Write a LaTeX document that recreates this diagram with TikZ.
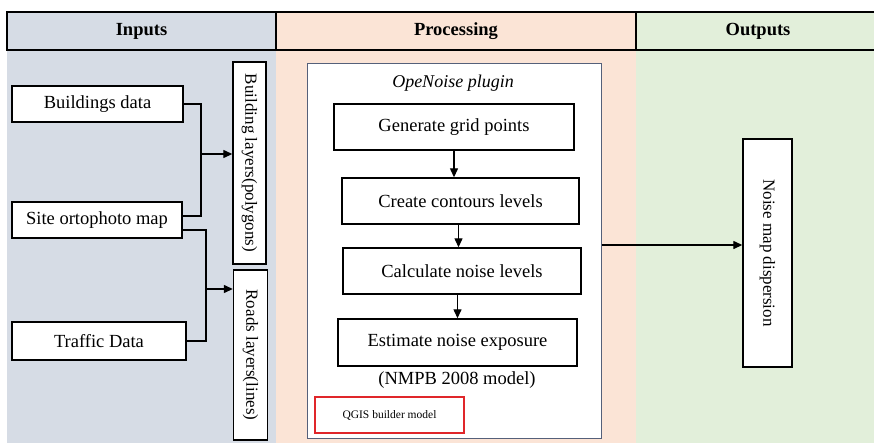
\documentclass[tikz,border=0pt]{standalone}
\usepackage{fontspec}
\setmainfont{Liberation Serif}
\usetikzlibrary{arrows.meta,calc}

\definecolor{inbg}{HTML}{D6DCE5}
\definecolor{prbg}{HTML}{FBE4D6}
\definecolor{outbg}{HTML}{E2EFDA}
\definecolor{plugframe}{HTML}{55607A}
\definecolor{qgisred}{HTML}{E0262A}

\tikzset{
  boxtxt/.style={font=\fontsize{18.5}{21}\selectfont},
  stepbox/.style={draw=black, line width=1.4pt, fill=white, boxtxt, inner sep=0pt},
  vbox/.style={stepbox, rotate=-90, font=\fontsize{17}{20}\selectfont},
  headcell/.style={draw=black, line width=1.2pt, inner sep=0pt, font=\fontsize{18.5}{21}\selectfont\bfseries},
  link/.style={draw=black, line width=1.3pt},
  arr/.style={link, -{Triangle[length=9pt,width=8pt]}},
}

\begin{document}
\begin{tikzpicture}[x=1pt, y=-1pt]
\useasboundingbox (0,0) rectangle (874,442);

% column backgrounds
\fill[inbg]  (7,50) rectangle (276,445);
\fill[prbg]  (276,50) rectangle (636,445);
\fill[outbg] (636,50) rectangle (880,445);

% header row
\node[headcell, fill=inbg,  minimum width=269, minimum height=38] (hin)  at (141.5,31) {Inputs};
\node[headcell, fill=prbg,  minimum width=360, minimum height=38] (hpro) at (456,31) {Processing};
\node[headcell, fill=outbg, minimum width=244, minimum height=38] (hout) at (758,31) {Outputs};

% inputs
\node[stepbox, minimum width=171, minimum height=36] (bld)  at (97.5,104) {Buildings data};
\node[stepbox, minimum width=170, minimum height=36] (site) at (97,220) {Site ortophoto map};
\node[stepbox, minimum width=174, minimum height=38] (trf)  at (99,341) {Traffic Data};

\node[vbox, minimum width=202, minimum height=33] (blay) at (249.5,163) {Building layers(polygons)};
\node[vbox, minimum width=170, minimum height=34] (rlay) at (250.5,355) {Roads layers(lines)};

\coordinate (v1) at (201,154);
\coordinate (v2) at (206,289);
\draw[link] (bld.east) -| (v1) |- ($(site.east)+(0,-4)$);
\draw[arr] (v1) -- (v1 -| blay.south);
\draw[link] ($(site.east)+(0,10)$) -| (v2) |- (trf.east);
\draw[arr] (v2) -- (v2 -| rlay.south);

% processing
\node[draw=plugframe, line width=1pt, fill=white, minimum width=294, minimum height=375, inner sep=0pt] (plug) at (454,250.5) {};
\node[font=\fontsize{18}{21}\selectfont\itshape] (ptitle) at (453,83) {OpeNoise plugin};

\node[stepbox, minimum width=240, minimum height=46] (gen)  at (454,127) {Generate grid points};
\node[stepbox, minimum width=237, minimum height=46] (cont) at (460.5,201) {Create contours levels};
\node[stepbox, minimum width=238, minimum height=46] (calc) at (462,271) {Calculate noise levels};
\node[stepbox, minimum width=239, minimum height=47] (est)  at (457.5,342.5) {Estimate noise exposure};
\node[boxtxt] (nmpb) at (457,380) {(NMPB 2008 model)};

\node[draw=qgisred, line width=1.2pt, fill=white, minimum width=149, minimum height=36, inner sep=0pt,
      font=\fontsize{11.5}{13}\selectfont] (qgis) at (389.5,415) {QGIS builder model\hspace{14pt}};

\draw[arr] (gen.south) -- (gen.south |- cont.north);
\draw[arr] ($(cont.south)+(-2,0)$) -- ($(cont.south |- calc.north)+(-2,0)$);
\draw[arr] (est.north |- calc.south) -- (est.north);

% outputs
\node[vbox, minimum width=228, minimum height=49] (noise) at (767.5,253) {Noise map dispersion};
\coordinate (oy) at (700,245);
\draw[arr] (oy -| plug.east) -- (oy -| noise.south);
\end{tikzpicture}
\end{document}
